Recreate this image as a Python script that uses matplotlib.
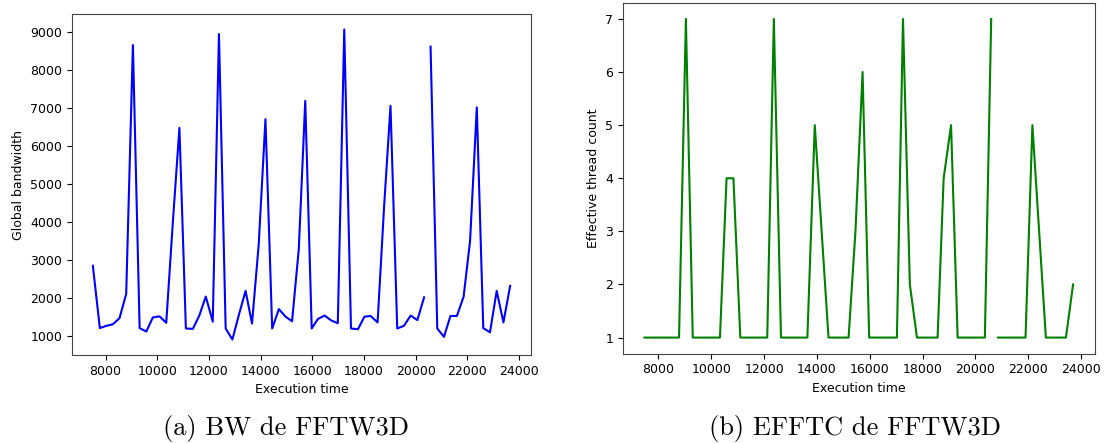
#!/usr/bin/env python3
"""BW and EFFTC traces of FFTW3D over execution time (two subfigures)."""

import numpy as np
import matplotlib
matplotlib.use("Agg")
import matplotlib.pyplot as plt

nan = np.nan

# (a) global bandwidth, NaN marks the hole in the trace
bw_time = [7510, 7780, 8030, 8280, 8540, 8800, 9060, 9320, 9580, 9830,
           10090, 10350, 10610, 10860, 11110, 11380, 11630, 11880, 12150, 12390,
           12650, 12910, 13170, 13420, 13670, 13930, 14190, 14450, 14710, 14970,
           15220, 15480, 15730, 15980, 16220, 16480, 16740, 16990, 17240, 17500,
           17770, 18020, 18260, 18530, 18780, 19030, 19290, 19550, 19810, 20070,
           20330, 20450, 20580, 20840, 21100, 21350, 21600, 21860, 22110, 22370,
           22620, 22880, 23140, 23400, 23660]
bw = [2840, 1200, 1260, 1300, 1460, 2100, 8650, 1200, 1110, 1480,
      1510, 1340, 4030, 6470, 1190, 1180, 1530, 2030, 1370, 8940,
      1190, 900, 1570, 2180, 1320, 3410, 6700, 1190, 1700, 1500,
      1380, 3280, 7180, 1190, 1440, 1530, 1400, 1330, 9060, 1190,
      1170, 1500, 1520, 1350, 4380, 7050, 1190, 1260, 1530, 1410,
      2010, nan, 8610, 1190, 970, 1520, 1520, 2030, 3500, 7010,
      1200, 1090, 2180, 1350, 2310]

# (b) effective thread count (vertices of the trace)
efftc_time = [7470, 8780, 9040, 9300, 10330, 10580, 10840, 11100, 12120, 12370,
              12640, 13640, 13920, 14440, 15200, 15460, 15730, 15980, 17030, 17260,
              17520, 17790, 18570, 18800, 19080, 19330, 20360, 20600, 20730, 20860,
              21900, 22160, 22670, 23430, 23700]
efftc = [1, 1, 7, 1, 1, 4, 4, 1, 1, 7,
         1, 1, 5, 1, 1, 3, 6, 1, 1, 7,
         2, 1, 1, 4, 5, 1, 1, 7, nan, 1,
         1, 5, 1, 1, 2]

W, H = 1105, 443
fig = plt.figure(figsize=(W / 100, H / 100), dpi=100)

ax1 = fig.add_axes([72 / W, 1 - 355 / H, 459 / W, 341 / H])
ax2 = fig.add_axes([623 / W, 1 - 353.5 / H, 471.5 / W, 350.5 / H])

ax1.plot(bw_time, bw, color="blue", lw=1.5)
ax1.set_ylabel("Global bandwidth", fontsize=9)

ax2.plot(efftc_time, efftc, color="green", lw=1.5)
ax2.set_ylabel("Effective thread count", fontsize=9)

for ax in (ax1, ax2):
    ax.set_xlabel("Execution time", fontsize=9)
    ax.set_xticks(range(8000, 24001, 2000))
    ax.tick_params(labelsize=9)
    for sp in ax.spines.values():
        sp.set_color("#444444")

# subfigure captions in Computer Modern
fig.text(286 / W, 1 - 428 / H, "(a) BW de FFTW3D", fontfamily="cmr10",
         fontsize=19, ha="center", va="center")
fig.text(855 / W, 1 - 428 / H, "(b) EFFTC de FFTW3D", fontfamily="cmr10",
         fontsize=19, ha="center", va="center")

fig.savefig("out.png", dpi=100)
